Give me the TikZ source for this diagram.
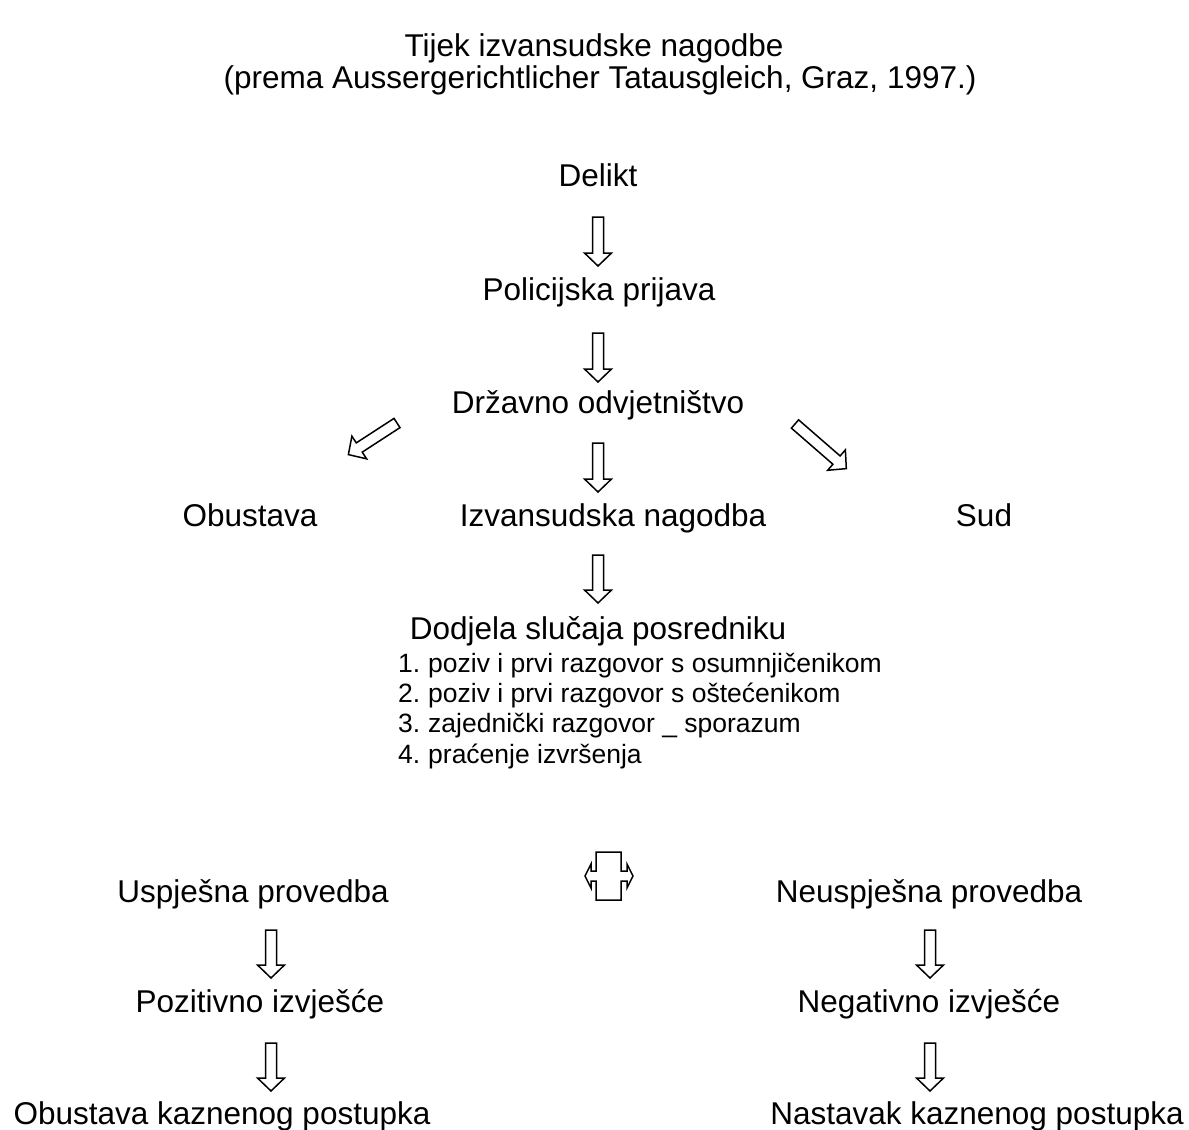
\documentclass[tikz,border=0pt]{standalone}
\usepackage{fontspec}
\setmainfont{Liberation Sans}
\begin{document}
\begin{tikzpicture}[x=1pt,y=-1pt,
  lbl/.style={inner sep=0pt, anchor=base, font=\fontsize{31.5}{36}\selectfont},
  itm/.style={inner sep=0pt, anchor=base west, font=\fontsize{26.5}{30}\selectfont},
  arrowline/.style={draw=black, line width=1.5pt, line join=miter, fill=white},
  pics/barrow/.style={code={
    \draw[arrowline] (-5.5,0) -- (-5.5,#1-13) -- (-13.5,#1-13) -- (0,#1) -- (13.5,#1-13) -- (5.5,#1-13) -- (5.5,0) -- cycle;}}
]
\useasboundingbox (0,0) rectangle (1189,1130);
% title
\node[lbl] (t1) at (594,56) {Tijek izvansudske nagodbe};
\node[lbl] (t2) at (600,88) {(prema Aussergerichtlicher Tatausgleich, Graz, 1997.)};
% main column
\node[lbl] (delikt) at (598,186) {Delikt};
\node[lbl] (policija) at (599,300) {Policijska prijava};
\node[lbl] (dorh) at (598,413) {Državno odvjetništvo};
\node[lbl] (obustava) at (250,526) {Obustava};
\node[lbl] (izvan) at (613,526) {Izvansudska nagodba};
\node[lbl] (sud) at (984,526) {Sud};
\node[lbl] (dodjela) at (598,639) {Dodjela slučaja posredniku};
% list
\node[itm] (n1) at (398,672) {1.};
\node[itm] (i1) at (428,672) {poziv i prvi razgovor s osumnjičenikom};
\node[itm] (n2) at (398,702) {2.};
\node[itm] (i2) at (428,702) {poziv i prvi razgovor s oštećenikom};
\node[itm] (n3) at (398,732) {3.};
\node[itm] (i3) at (428,732) {zajednički razgovor \_ sporazum};
\node[itm] (n4) at (398,763) {4.};
\node[itm] (i4) at (428,763) {praćenje izvršenja};
% outcomes
\node[lbl] (usp) at (253,902) {Uspješna provedba};
\node[lbl] (neusp) at (929,902) {Neuspješna provedba};
\node[lbl] (poz) at (260,1012) {Pozitivno izvješće};
\node[lbl] (neg) at (929,1012) {Negativno izvješće};
\node[lbl] (obk) at (222,1124) {Obustava kaznenog postupka};
\node[lbl] (nast) at (977,1124) {Nastavak kaznenog postupka};
% block arrows
\pic at (598,217) {barrow=49};
\pic at (598,333) {barrow=49};
\pic at (598,443) {barrow=49};
\pic at (598,555) {barrow=48};
\pic[rotate=-57] at (397,423) {barrow=58};
\pic[rotate=49] at (795,424) {barrow=68};
\pic at (271,930) {barrow=48};
\pic at (271,1043) {barrow=48};
\pic at (930,930) {barrow=48};
\pic at (930,1043) {barrow=48};
% double arrow
\draw[arrowline] (596,852) -- (621,852) -- (621,871) -- (627,871) -- (627,864) -- (633,876) -- (627,888) -- (627,881) -- (621,881) -- (621,900) -- (596,900) -- (596,881) -- (591,881) -- (591,888) -- (585,876) -- (591,864) -- (591,871) -- (596,871) -- cycle;
\end{tikzpicture}
\end{document}
